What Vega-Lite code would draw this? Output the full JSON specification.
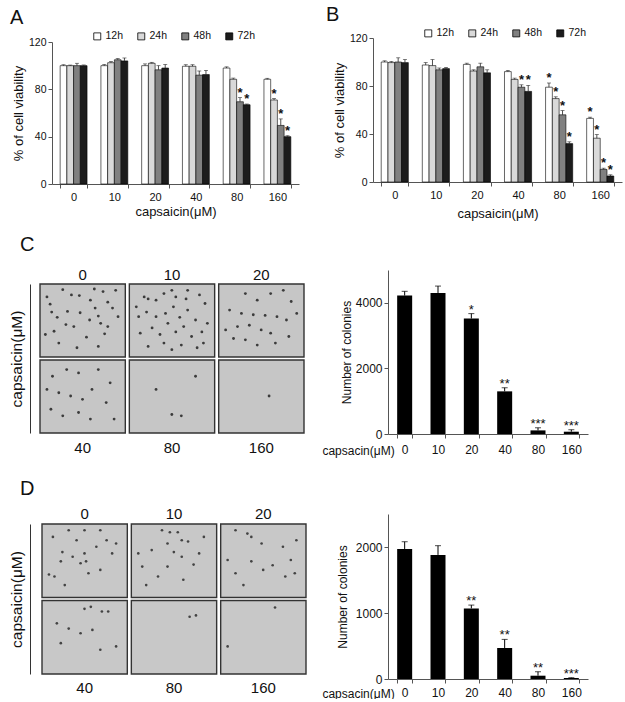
{
  "$schema": "https://vega.github.io/schema/vega-lite/v6.json",
  "background": "white",
  "padding": {"left": 9, "top": 5, "right": 0, "bottom": 0},
  "config": {
    "view": {"stroke": null},
    "font": "Liberation Sans",
    "axis": {"grid": false, "domainColor": "#555", "tickColor": "#555", "labelColor": "#111", "titleColor": "#111", "titleFontWeight": "normal", "labelFont": "Liberation Sans", "titleFont": "Liberation Sans"},
    "title": {"font": "Liberation Sans", "fontWeight": "normal", "color": "#111"},
    "legend": {"labelFont": "Liberation Sans", "labelColor": "#111"},
    "text": {"font": "Liberation Sans", "color": "#111"}
  },
  "datasets": {
    "viaA": [
      {"dose": "0", "time": "12h", "v": 100, "hi": 100.8, "star": ""},
      {"dose": "0", "time": "24h", "v": 100, "hi": 100.5, "star": ""},
      {"dose": "0", "time": "48h", "v": 100, "hi": 102, "star": ""},
      {"dose": "0", "time": "72h", "v": 100, "hi": 100.6, "star": ""},
      {"dose": "10", "time": "12h", "v": 100, "hi": 101, "star": ""},
      {"dose": "10", "time": "24h", "v": 102.5, "hi": 103.5, "star": ""},
      {"dose": "10", "time": "48h", "v": 105, "hi": 106, "star": ""},
      {"dose": "10", "time": "72h", "v": 104, "hi": 106.5, "star": ""},
      {"dose": "20", "time": "12h", "v": 100, "hi": 101.5, "star": ""},
      {"dose": "20", "time": "24h", "v": 102, "hi": 102.8, "star": ""},
      {"dose": "20", "time": "48h", "v": 96.5, "hi": 100, "star": ""},
      {"dose": "20", "time": "72h", "v": 98, "hi": 101, "star": ""},
      {"dose": "40", "time": "12h", "v": 99.5, "hi": 100.8, "star": ""},
      {"dose": "40", "time": "24h", "v": 99.5, "hi": 100.8, "star": ""},
      {"dose": "40", "time": "48h", "v": 92, "hi": 95.5, "star": ""},
      {"dose": "40", "time": "72h", "v": 92.5, "hi": 96, "star": ""},
      {"dose": "80", "time": "12h", "v": 98, "hi": 99, "star": ""},
      {"dose": "80", "time": "24h", "v": 88.5, "hi": 89.5, "star": ""},
      {"dose": "80", "time": "48h", "v": 69.5, "hi": 73, "star": "*"},
      {"dose": "80", "time": "72h", "v": 67, "hi": 67.6, "star": "*"},
      {"dose": "160", "time": "12h", "v": 88.5, "hi": 89.3, "star": ""},
      {"dose": "160", "time": "24h", "v": 71, "hi": 72.2, "star": "*"},
      {"dose": "160", "time": "48h", "v": 49.5, "hi": 55, "star": "*"},
      {"dose": "160", "time": "72h", "v": 40, "hi": 40.8, "star": "*"}
    ],
    "viaB": [
      {"dose": "0", "time": "12h", "v": 100, "hi": 101, "star": ""},
      {"dose": "0", "time": "24h", "v": 99.5, "hi": 100.5, "star": ""},
      {"dose": "0", "time": "48h", "v": 100, "hi": 103.5, "star": ""},
      {"dose": "0", "time": "72h", "v": 99.5, "hi": 102, "star": ""},
      {"dose": "10", "time": "12h", "v": 97.5, "hi": 99.5, "star": ""},
      {"dose": "10", "time": "24h", "v": 97, "hi": 102, "star": ""},
      {"dose": "10", "time": "48h", "v": 93.5, "hi": 95, "star": ""},
      {"dose": "10", "time": "72h", "v": 94.5, "hi": 95.5, "star": ""},
      {"dose": "20", "time": "12h", "v": 98, "hi": 99, "star": ""},
      {"dose": "20", "time": "24h", "v": 92.5, "hi": 93.5, "star": ""},
      {"dose": "20", "time": "48h", "v": 96, "hi": 99, "star": ""},
      {"dose": "20", "time": "72h", "v": 91, "hi": 93.5, "star": ""},
      {"dose": "40", "time": "12h", "v": 92, "hi": 93, "star": ""},
      {"dose": "40", "time": "24h", "v": 85.5, "hi": 86.5, "star": ""},
      {"dose": "40", "time": "48h", "v": 79, "hi": 81, "star": "*"},
      {"dose": "40", "time": "72h", "v": 75.5, "hi": 80.5, "star": "*"},
      {"dose": "80", "time": "12h", "v": 79, "hi": 82.5, "star": "*"},
      {"dose": "80", "time": "24h", "v": 69.5, "hi": 71, "star": "*"},
      {"dose": "80", "time": "48h", "v": 56, "hi": 59.5, "star": "*"},
      {"dose": "80", "time": "72h", "v": 32, "hi": 33.5, "star": "*"},
      {"dose": "160", "time": "12h", "v": 53, "hi": 54, "star": "*"},
      {"dose": "160", "time": "24h", "v": 36.5, "hi": 39.5, "star": "*"},
      {"dose": "160", "time": "48h", "v": 10.5, "hi": 11.5, "star": "*"},
      {"dose": "160", "time": "72h", "v": 5, "hi": 6, "star": "*"}
    ],
    "colC": [
      {"dose": "0", "v": 4220, "hi": 4350, "star": ""},
      {"dose": "10", "v": 4300, "hi": 4510, "star": ""},
      {"dose": "20", "v": 3520, "hi": 3670, "star": "*"},
      {"dose": "40", "v": 1300, "hi": 1410, "star": "**"},
      {"dose": "80", "v": 110, "hi": 190, "star": "***"},
      {"dose": "160", "v": 70, "hi": 130, "star": "***"}
    ],
    "colD": [
      {"dose": "0", "v": 1970, "hi": 2080, "star": ""},
      {"dose": "10", "v": 1880, "hi": 2020, "star": ""},
      {"dose": "20", "v": 1070, "hi": 1120, "star": "**"},
      {"dose": "40", "v": 470, "hi": 600, "star": "**"},
      {"dose": "80", "v": 50, "hi": 110, "star": "**"},
      {"dose": "160", "v": 15, "hi": 20, "star": "***"}
    ],
    "tiles": [
      {"panel": "C", "col": 0, "row": 0}, {"panel": "C", "col": 1, "row": 0}, {"panel": "C", "col": 2, "row": 0},
      {"panel": "C", "col": 0, "row": 1}, {"panel": "C", "col": 1, "row": 1}, {"panel": "C", "col": 2, "row": 1},
      {"panel": "D", "col": 0, "row": 0}, {"panel": "D", "col": 1, "row": 0}, {"panel": "D", "col": 2, "row": 0},
      {"panel": "D", "col": 0, "row": 1}, {"panel": "D", "col": 1, "row": 1}, {"panel": "D", "col": 2, "row": 1}
    ],
    "dots": [
      {"panel": "C", "col": 0, "row": 0, "u": 0.25, "v": 0.04}, {"panel": "C", "col": 0, "row": 0, "u": 0.36, "v": 0.12},
      {"panel": "C", "col": 0, "row": 0, "u": 0.46, "v": 0.13}, {"panel": "C", "col": 0, "row": 0, "u": 0.65, "v": 0.03},
      {"panel": "C", "col": 0, "row": 0, "u": 0.76, "v": 0.07}, {"panel": "C", "col": 0, "row": 0, "u": 0.92, "v": 0.05},
      {"panel": "C", "col": 0, "row": 0, "u": 0.09, "v": 0.26}, {"panel": "C", "col": 0, "row": 0, "u": 0.11, "v": 0.38},
      {"panel": "C", "col": 0, "row": 0, "u": 0.18, "v": 0.46}, {"panel": "C", "col": 0, "row": 0, "u": 0.29, "v": 0.57},
      {"panel": "C", "col": 0, "row": 0, "u": 0.39, "v": 0.6}, {"panel": "C", "col": 0, "row": 0, "u": 0.47, "v": 0.39},
      {"panel": "C", "col": 0, "row": 0, "u": 0.59, "v": 0.5}, {"panel": "C", "col": 0, "row": 0, "u": 0.7, "v": 0.44},
      {"panel": "C", "col": 0, "row": 0, "u": 0.73, "v": 0.55}, {"panel": "C", "col": 0, "row": 0, "u": 0.82, "v": 0.6},
      {"panel": "C", "col": 0, "row": 0, "u": 0.88, "v": 0.32}, {"panel": "C", "col": 0, "row": 0, "u": 0.82, "v": 0.23},
      {"panel": "C", "col": 0, "row": 0, "u": 0.14, "v": 0.67}, {"panel": "C", "col": 0, "row": 0, "u": 0.03, "v": 0.72},
      {"panel": "C", "col": 0, "row": 0, "u": 0.31, "v": 0.37}, {"panel": "C", "col": 0, "row": 0, "u": 0.66, "v": 0.32},
      {"panel": "C", "col": 0, "row": 0, "u": 0.78, "v": 0.71}, {"panel": "C", "col": 0, "row": 0, "u": 0.55, "v": 0.76},
      {"panel": "C", "col": 0, "row": 0, "u": 0.43, "v": 0.92}, {"panel": "C", "col": 0, "row": 0, "u": 0.7, "v": 0.9},
      {"panel": "C", "col": 0, "row": 0, "u": 0.05, "v": 0.15}, {"panel": "C", "col": 0, "row": 0, "u": 0.95, "v": 0.45},
      {"panel": "C", "col": 0, "row": 0, "u": 0.6, "v": 0.2}, {"panel": "C", "col": 0, "row": 0, "u": 0.2, "v": 0.85},
      {"panel": "C", "col": 1, "row": 0, "u": 0.15, "v": 0.15}, {"panel": "C", "col": 1, "row": 0, "u": 0.2, "v": 0.18},
      {"panel": "C", "col": 1, "row": 0, "u": 0.3, "v": 0.2}, {"panel": "C", "col": 1, "row": 0, "u": 0.4, "v": 0.1},
      {"panel": "C", "col": 1, "row": 0, "u": 0.5, "v": 0.05}, {"panel": "C", "col": 1, "row": 0, "u": 0.68, "v": 0.18},
      {"panel": "C", "col": 1, "row": 0, "u": 0.85, "v": 0.12}, {"panel": "C", "col": 1, "row": 0, "u": 0.92, "v": 0.25},
      {"panel": "C", "col": 1, "row": 0, "u": 0.08, "v": 0.45}, {"panel": "C", "col": 1, "row": 0, "u": 0.18, "v": 0.38},
      {"panel": "C", "col": 1, "row": 0, "u": 0.3, "v": 0.45}, {"panel": "C", "col": 1, "row": 0, "u": 0.42, "v": 0.4},
      {"panel": "C", "col": 1, "row": 0, "u": 0.52, "v": 0.3}, {"panel": "C", "col": 1, "row": 0, "u": 0.6, "v": 0.46},
      {"panel": "C", "col": 1, "row": 0, "u": 0.7, "v": 0.35}, {"panel": "C", "col": 1, "row": 0, "u": 0.8, "v": 0.5},
      {"panel": "C", "col": 1, "row": 0, "u": 0.95, "v": 0.55}, {"panel": "C", "col": 1, "row": 0, "u": 0.1, "v": 0.7},
      {"panel": "C", "col": 1, "row": 0, "u": 0.25, "v": 0.62}, {"panel": "C", "col": 1, "row": 0, "u": 0.35, "v": 0.72},
      {"panel": "C", "col": 1, "row": 0, "u": 0.45, "v": 0.55}, {"panel": "C", "col": 1, "row": 0, "u": 0.55, "v": 0.68},
      {"panel": "C", "col": 1, "row": 0, "u": 0.65, "v": 0.6}, {"panel": "C", "col": 1, "row": 0, "u": 0.75, "v": 0.75},
      {"panel": "C", "col": 1, "row": 0, "u": 0.88, "v": 0.68}, {"panel": "C", "col": 1, "row": 0, "u": 0.2, "v": 0.9},
      {"panel": "C", "col": 1, "row": 0, "u": 0.4, "v": 0.85}, {"panel": "C", "col": 1, "row": 0, "u": 0.5, "v": 0.95},
      {"panel": "C", "col": 1, "row": 0, "u": 0.62, "v": 0.88}, {"panel": "C", "col": 1, "row": 0, "u": 0.82, "v": 0.92},
      {"panel": "C", "col": 1, "row": 0, "u": 0.7, "v": 0.05}, {"panel": "C", "col": 1, "row": 0, "u": 0.05, "v": 0.3},
      {"panel": "C", "col": 1, "row": 0, "u": 0.55, "v": 0.15}, {"panel": "C", "col": 1, "row": 0, "u": 0.9, "v": 0.85},
      {"panel": "C", "col": 2, "row": 0, "u": 0.3, "v": 0.1}, {"panel": "C", "col": 2, "row": 0, "u": 0.45, "v": 0.2},
      {"panel": "C", "col": 2, "row": 0, "u": 0.62, "v": 0.1}, {"panel": "C", "col": 2, "row": 0, "u": 0.78, "v": 0.05},
      {"panel": "C", "col": 2, "row": 0, "u": 0.88, "v": 0.22}, {"panel": "C", "col": 2, "row": 0, "u": 0.1, "v": 0.35},
      {"panel": "C", "col": 2, "row": 0, "u": 0.25, "v": 0.4}, {"panel": "C", "col": 2, "row": 0, "u": 0.4, "v": 0.42},
      {"panel": "C", "col": 2, "row": 0, "u": 0.55, "v": 0.43}, {"panel": "C", "col": 2, "row": 0, "u": 0.7, "v": 0.45},
      {"panel": "C", "col": 2, "row": 0, "u": 0.82, "v": 0.5}, {"panel": "C", "col": 2, "row": 0, "u": 0.2, "v": 0.6},
      {"panel": "C", "col": 2, "row": 0, "u": 0.35, "v": 0.58}, {"panel": "C", "col": 2, "row": 0, "u": 0.5, "v": 0.65},
      {"panel": "C", "col": 2, "row": 0, "u": 0.62, "v": 0.7}, {"panel": "C", "col": 2, "row": 0, "u": 0.15, "v": 0.78},
      {"panel": "C", "col": 2, "row": 0, "u": 0.3, "v": 0.8}, {"panel": "C", "col": 2, "row": 0, "u": 0.45, "v": 0.88},
      {"panel": "C", "col": 2, "row": 0, "u": 0.68, "v": 0.85}, {"panel": "C", "col": 2, "row": 0, "u": 0.85, "v": 0.75},
      {"panel": "C", "col": 2, "row": 0, "u": 0.05, "v": 0.65}, {"panel": "C", "col": 2, "row": 0, "u": 0.95, "v": 0.4},
      {"panel": "C", "col": 0, "row": 1, "u": 0.12, "v": 0.2}, {"panel": "C", "col": 0, "row": 1, "u": 0.3, "v": 0.1},
      {"panel": "C", "col": 0, "row": 1, "u": 0.45, "v": 0.15}, {"panel": "C", "col": 0, "row": 1, "u": 0.7, "v": 0.1},
      {"panel": "C", "col": 0, "row": 1, "u": 0.2, "v": 0.45}, {"panel": "C", "col": 0, "row": 1, "u": 0.35, "v": 0.5},
      {"panel": "C", "col": 0, "row": 1, "u": 0.5, "v": 0.55}, {"panel": "C", "col": 0, "row": 1, "u": 0.62, "v": 0.4},
      {"panel": "C", "col": 0, "row": 1, "u": 0.8, "v": 0.6}, {"panel": "C", "col": 0, "row": 1, "u": 0.1, "v": 0.7},
      {"panel": "C", "col": 0, "row": 1, "u": 0.25, "v": 0.8}, {"panel": "C", "col": 0, "row": 1, "u": 0.45, "v": 0.75},
      {"panel": "C", "col": 0, "row": 1, "u": 0.6, "v": 0.85}, {"panel": "C", "col": 0, "row": 1, "u": 0.85, "v": 0.3},
      {"panel": "C", "col": 0, "row": 1, "u": 0.9, "v": 0.85}, {"panel": "C", "col": 0, "row": 1, "u": 0.05, "v": 0.4},
      {"panel": "C", "col": 1, "row": 1, "u": 0.3, "v": 0.4}, {"panel": "C", "col": 1, "row": 1, "u": 0.5, "v": 0.78},
      {"panel": "C", "col": 1, "row": 1, "u": 0.62, "v": 0.8}, {"panel": "C", "col": 1, "row": 1, "u": 0.8, "v": 0.2},
      {"panel": "C", "col": 2, "row": 1, "u": 0.6, "v": 0.5},
      {"panel": "D", "col": 0, "row": 0, "u": 0.1, "v": 0.15}, {"panel": "D", "col": 0, "row": 0, "u": 0.3, "v": 0.05},
      {"panel": "D", "col": 0, "row": 0, "u": 0.5, "v": 0.05}, {"panel": "D", "col": 0, "row": 0, "u": 0.7, "v": 0.05},
      {"panel": "D", "col": 0, "row": 0, "u": 0.78, "v": 0.2}, {"panel": "D", "col": 0, "row": 0, "u": 0.9, "v": 0.25},
      {"panel": "D", "col": 0, "row": 0, "u": 0.85, "v": 0.4}, {"panel": "D", "col": 0, "row": 0, "u": 0.22, "v": 0.38},
      {"panel": "D", "col": 0, "row": 0, "u": 0.35, "v": 0.45}, {"panel": "D", "col": 0, "row": 0, "u": 0.5, "v": 0.4},
      {"panel": "D", "col": 0, "row": 0, "u": 0.2, "v": 0.52}, {"panel": "D", "col": 0, "row": 0, "u": 0.45, "v": 0.55},
      {"panel": "D", "col": 0, "row": 0, "u": 0.52, "v": 0.52}, {"panel": "D", "col": 0, "row": 0, "u": 0.05, "v": 0.72},
      {"panel": "D", "col": 0, "row": 0, "u": 0.12, "v": 0.75}, {"panel": "D", "col": 0, "row": 0, "u": 0.55, "v": 0.7},
      {"panel": "D", "col": 0, "row": 0, "u": 0.7, "v": 0.65}, {"panel": "D", "col": 0, "row": 0, "u": 0.25, "v": 0.88},
      {"panel": "D", "col": 0, "row": 0, "u": 0.4, "v": 0.2}, {"panel": "D", "col": 0, "row": 0, "u": 0.65, "v": 0.3},
      {"panel": "D", "col": 1, "row": 0, "u": 0.35, "v": 0.05}, {"panel": "D", "col": 1, "row": 0, "u": 0.45, "v": 0.08},
      {"panel": "D", "col": 1, "row": 0, "u": 0.55, "v": 0.08}, {"panel": "D", "col": 1, "row": 0, "u": 0.6, "v": 0.2},
      {"panel": "D", "col": 1, "row": 0, "u": 0.68, "v": 0.22}, {"panel": "D", "col": 1, "row": 0, "u": 0.42, "v": 0.25},
      {"panel": "D", "col": 1, "row": 0, "u": 0.05, "v": 0.4}, {"panel": "D", "col": 1, "row": 0, "u": 0.22, "v": 0.35},
      {"panel": "D", "col": 1, "row": 0, "u": 0.5, "v": 0.38}, {"panel": "D", "col": 1, "row": 0, "u": 0.6, "v": 0.45},
      {"panel": "D", "col": 1, "row": 0, "u": 0.82, "v": 0.4}, {"panel": "D", "col": 1, "row": 0, "u": 0.1, "v": 0.6},
      {"panel": "D", "col": 1, "row": 0, "u": 0.42, "v": 0.6}, {"panel": "D", "col": 1, "row": 0, "u": 0.75, "v": 0.57},
      {"panel": "D", "col": 1, "row": 0, "u": 0.3, "v": 0.75}, {"panel": "D", "col": 1, "row": 0, "u": 0.62, "v": 0.8},
      {"panel": "D", "col": 1, "row": 0, "u": 0.15, "v": 0.88}, {"panel": "D", "col": 1, "row": 0, "u": 0.88, "v": 0.15},
      {"panel": "D", "col": 2, "row": 0, "u": 0.3, "v": 0.1}, {"panel": "D", "col": 2, "row": 0, "u": 0.35, "v": 0.15},
      {"panel": "D", "col": 2, "row": 0, "u": 0.15, "v": 0.05}, {"panel": "D", "col": 2, "row": 0, "u": 0.48, "v": 0.25},
      {"panel": "D", "col": 2, "row": 0, "u": 0.75, "v": 0.3}, {"panel": "D", "col": 2, "row": 0, "u": 0.92, "v": 0.2},
      {"panel": "D", "col": 2, "row": 0, "u": 0.85, "v": 0.5}, {"panel": "D", "col": 2, "row": 0, "u": 0.05, "v": 0.5},
      {"panel": "D", "col": 2, "row": 0, "u": 0.35, "v": 0.52}, {"panel": "D", "col": 2, "row": 0, "u": 0.15, "v": 0.7},
      {"panel": "D", "col": 2, "row": 0, "u": 0.5, "v": 0.65}, {"panel": "D", "col": 2, "row": 0, "u": 0.62, "v": 0.58},
      {"panel": "D", "col": 2, "row": 0, "u": 0.78, "v": 0.75}, {"panel": "D", "col": 2, "row": 0, "u": 0.25, "v": 0.88},
      {"panel": "D", "col": 2, "row": 0, "u": 0.9, "v": 0.7},
      {"panel": "D", "col": 0, "row": 1, "u": 0.5, "v": 0.08}, {"panel": "D", "col": 0, "row": 1, "u": 0.58, "v": 0.05},
      {"panel": "D", "col": 0, "row": 1, "u": 0.72, "v": 0.12}, {"panel": "D", "col": 0, "row": 1, "u": 0.8, "v": 0.12},
      {"panel": "D", "col": 0, "row": 1, "u": 0.15, "v": 0.3}, {"panel": "D", "col": 0, "row": 1, "u": 0.3, "v": 0.38},
      {"panel": "D", "col": 0, "row": 1, "u": 0.45, "v": 0.45}, {"panel": "D", "col": 0, "row": 1, "u": 0.6, "v": 0.4},
      {"panel": "D", "col": 0, "row": 1, "u": 0.2, "v": 0.6}, {"panel": "D", "col": 0, "row": 1, "u": 0.7, "v": 0.7},
      {"panel": "D", "col": 0, "row": 1, "u": 0.9, "v": 0.65},
      {"panel": "D", "col": 1, "row": 1, "u": 0.7, "v": 0.2}, {"panel": "D", "col": 1, "row": 1, "u": 0.78, "v": 0.18},
      {"panel": "D", "col": 2, "row": 1, "u": 0.65, "v": 0.06}, {"panel": "D", "col": 2, "row": 1, "u": 0.05, "v": 0.65}
    ]
  },
  "columns": 2,
  "align": "none",
  "bounds": "flush",
  "spacing": {"row": 80, "column": 74},
  "resolve": {
    "scale": {"x": "independent", "y": "independent", "color": "independent", "xOffset": "independent", "yOffset": "independent"},
    "legend": {"color": "independent"}
  },
  "concat": [
    {
      "title": {"text": "A", "anchor": "start", "frame": "group", "dx": -42, "dy": 21, "fontSize": 20, "baseline": "alphabetic", "offset": 8},
      "width": 247,
      "height": 152,
      "data": {"name": "viaA"},
      "encoding": {
        "x": {"field": "dose", "type": "ordinal", "scale": {"domain": ["0", "10", "20", "40", "80", "160"], "paddingInner": 0.34},
          "axis": {"title": "capsaicin(μM)", "labelAngle": 0, "offset": -6, "tickBand": "extent", "tickSize": 4, "labelPadding": 3, "labelFontSize": 11, "titleFontSize": 13, "titlePadding": 3}},
        "xOffset": {"field": "time", "type": "nominal", "scale": {"domain": ["12h", "24h", "48h", "72h"], "paddingInner": 0}}
      },
      "layer": [
        {
          "mark": {"type": "bar", "stroke": "black", "strokeWidth": 0.6},
          "encoding": {
            "y": {"field": "v", "type": "quantitative", "scale": {"domain": [0, 120], "range": [146, 4], "nice": false},
              "axis": {"title": "% of cell viability", "values": [0, 20, 40, 60, 80, 100, 120], "tickSize": 4, "labelFontSize": 10.5, "titleFontSize": 13, "titlePadding": 3}},
            "color": {"field": "time", "type": "nominal",
              "scale": {"domain": ["12h", "24h", "48h", "72h"], "range": ["#ffffff", "#d9d9d9", "#808080", "#1c1c1c"]},
              "legend": {"title": null, "orient": "none", "legendX": 40, "legendY": -7, "direction": "horizontal", "symbolType": "square", "symbolSize": 49, "symbolStrokeColor": "black", "symbolStrokeWidth": 0.8, "labelFontSize": 10.5, "columnPadding": 12, "labelOffset": 3}}
          }
        },
        {
          "transform": [{"filter": "datum.hi > datum.v"}],
          "mark": {"type": "rule", "color": "#222", "strokeWidth": 0.8},
          "encoding": {"y": {"field": "v", "type": "quantitative"}, "y2": {"field": "hi"}}
        },
        {
          "transform": [{"filter": "datum.hi > datum.v"}],
          "mark": {"type": "tick", "color": "#222", "thickness": 0.8, "size": 4},
          "encoding": {"y": {"field": "hi", "type": "quantitative"}}
        },
        {
          "transform": [{"filter": "datum.star != ''"}],
          "mark": {"type": "text", "baseline": "alphabetic", "dy": -1, "fontSize": 13, "fontWeight": "bold"},
          "encoding": {"y": {"field": "hi", "type": "quantitative"}, "text": {"field": "star"}}
        }
      ]
    },
    {
      "title": {"text": "B", "anchor": "start", "frame": "group", "dx": -62, "dy": 21, "fontSize": 20, "baseline": "alphabetic", "offset": 8},
      "width": 234,
      "height": 152,
      "data": {"name": "viaB"},
      "encoding": {
        "x": {"field": "dose", "type": "ordinal", "scale": {"domain": ["0", "10", "20", "40", "80", "160"], "range": [-15, 234], "paddingInner": 0.34},
          "axis": {"title": "capsaicin(μM)", "labelAngle": 0, "offset": -8, "tickBand": "extent", "tickSize": 4, "labelPadding": 3, "labelFontSize": 11, "titleFontSize": 13, "titlePadding": 7}},
        "xOffset": {"field": "time", "type": "nominal", "scale": {"domain": ["12h", "24h", "48h", "72h"], "paddingInner": 0}}
      },
      "layer": [
        {
          "mark": {"type": "bar", "stroke": "black", "strokeWidth": 0.6},
          "encoding": {
            "y": {"field": "v", "type": "quantitative", "scale": {"domain": [0, 120], "range": [144, 0], "nice": false},
              "axis": {"title": "% of cell viability", "values": [0, 20, 40, 60, 80, 100, 120], "offset": 15, "tickSize": 4, "labelFontSize": 10.5, "titleFontSize": 13, "titlePadding": 3}},
            "color": {"field": "time", "type": "nominal",
              "scale": {"domain": ["12h", "24h", "48h", "72h"], "range": ["#ffffff", "#d9d9d9", "#808080", "#1c1c1c"]},
              "legend": {"title": null, "orient": "none", "legendX": 35, "legendY": -10, "direction": "horizontal", "symbolType": "square", "symbolSize": 49, "symbolStrokeColor": "black", "symbolStrokeWidth": 0.8, "labelFontSize": 10.5, "columnPadding": 12, "labelOffset": 3}}
          }
        },
        {
          "transform": [{"filter": "datum.hi > datum.v"}],
          "mark": {"type": "rule", "color": "#222", "strokeWidth": 0.8},
          "encoding": {"y": {"field": "v", "type": "quantitative"}, "y2": {"field": "hi"}}
        },
        {
          "transform": [{"filter": "datum.hi > datum.v"}],
          "mark": {"type": "tick", "color": "#222", "thickness": 0.8, "size": 4},
          "encoding": {"y": {"field": "hi", "type": "quantitative"}}
        },
        {
          "transform": [{"filter": "datum.star != ''"}],
          "mark": {"type": "text", "baseline": "alphabetic", "dy": -1, "fontSize": 13, "fontWeight": "bold"},
          "encoding": {"y": {"field": "hi", "type": "quantitative"}, "text": {"field": "star"}}
        }
      ]
    },
    {
      "title": {"text": "C", "anchor": "start", "frame": "group", "dx": -32, "dy": 16, "fontSize": 20, "baseline": "alphabetic", "offset": 12},
      "width": 262,
      "height": 164,
      "layer": [
        {
          "data": {"name": "tiles"},
          "transform": [{"filter": "datum.panel == 'C'"}],
          "mark": {"type": "rect", "fill": "#c6c6c6", "stroke": "#333", "strokeWidth": 1.4},
          "encoding": {
            "x": {"field": "col", "type": "ordinal", "scale": {"type": "band", "range": [-12, 252], "paddingInner": 0.045, "paddingOuter": 0},
              "axis": {"orient": "top", "offset": -14, "title": null, "domain": false, "ticks": false, "labelPadding": 2, "labelFontSize": 15, "labelAngle": 0, "labelExpr": "['0','10','20'][datum.value]"}},
            "y": {"field": "row", "type": "ordinal", "scale": {"type": "band", "range": [14, 163], "paddingInner": 0.04, "paddingOuter": 0},
              "axis": {"title": "capsaicin(μM)", "titleFontSize": 15.5, "labels": false, "ticks": false, "domain": true, "domainColor": "#333", "offset": 22, "titlePadding": 6}}
          }
        },
        {
          "data": {"name": "dots"},
          "transform": [{"filter": "datum.panel == 'C'"}],
          "mark": {"type": "circle", "size": 8, "color": "#2b2b2b", "opacity": 0.9},
          "encoding": {
            "x": {"field": "col", "type": "ordinal", "scale": {"type": "band"},
              "axis": {"orient": "bottom", "offset": -1, "title": null, "domain": false, "ticks": false, "labelPadding": 7, "labelFontSize": 15, "labelAngle": 0, "labelExpr": "['40','80','160'][datum.value]"}},
            "xOffset": {"field": "u", "type": "quantitative", "scale": {"domain": [0, 1], "range": [3, 82]}},
            "y": {"field": "row", "type": "ordinal", "scale": {"type": "band"}},
            "yOffset": {"field": "v", "type": "quantitative", "scale": {"domain": [0, 1], "range": [3, 69]}}
          }
        }
      ],
      "resolve": {"scale": {"xOffset": "independent", "yOffset": "independent"}, "axis": {"x": "independent"}}
    },
    {
      "width": 200,
      "height": 164,
      "data": {"name": "colC"},
      "encoding": {
        "x": {"field": "dose", "type": "ordinal", "scale": {"domain": ["0", "10", "20", "40", "80", "160"], "paddingInner": 0.55},
          "axis": {"title": "capsacin(μM)", "labelAngle": 0, "tickBand": "extent", "tickSize": 4, "labelPadding": 6, "labelFontSize": 12, "titleFontSize": 12, "titleAngle": 0, "titleX": -30, "titleY": 16, "titleAlign": "center", "titleBaseline": "middle"}}
      },
      "layer": [
        {
          "mark": {"type": "bar", "color": "black"},
          "encoding": {"y": {"field": "v", "type": "quantitative", "scale": {"domain": [0, 5000], "nice": false},
            "axis": {"title": "Number of colonies", "values": [0, 1000, 2000, 3000, 4000, 5000], "format": "d", "tickSize": 4, "labelFontSize": 12, "titleFontSize": 12, "titlePadding": 2}}}
        },
        {
          "mark": {"type": "rule", "color": "black", "strokeWidth": 1},
          "encoding": {"y": {"field": "v", "type": "quantitative"}, "y2": {"field": "hi"}}
        },
        {
          "mark": {"type": "tick", "color": "black", "thickness": 1, "size": 6},
          "encoding": {"y": {"field": "hi", "type": "quantitative"}}
        },
        {
          "transform": [{"filter": "datum.star != ''"}],
          "mark": {"type": "text", "baseline": "alphabetic", "dy": 0, "fontSize": 13},
          "encoding": {"y": {"field": "hi", "type": "quantitative"}, "text": {"field": "star"}}
        }
      ]
    },
    {
      "title": {"text": "D", "anchor": "start", "frame": "group", "dx": -32, "dy": 21, "fontSize": 20, "baseline": "alphabetic", "offset": 12},
      "width": 262,
      "height": 165,
      "layer": [
        {
          "data": {"name": "tiles"},
          "transform": [{"filter": "datum.panel == 'D'"}],
          "mark": {"type": "rect", "fill": "#c8c8c8", "stroke": "#333", "strokeWidth": 1.4},
          "encoding": {
            "x": {"field": "col", "type": "ordinal", "scale": {"type": "band", "range": [-10, 254], "paddingInner": 0.045, "paddingOuter": 0},
              "axis": {"orient": "top", "offset": -10, "title": null, "domain": false, "ticks": false, "labelPadding": 3, "labelFontSize": 15, "labelAngle": 0, "labelExpr": "['0','10','20'][datum.value]"}},
            "y": {"field": "row", "type": "ordinal", "scale": {"type": "band", "range": [10, 160], "paddingInner": 0.04, "paddingOuter": 0},
              "axis": {"title": "capsaicin(μM)", "titleFontSize": 15.5, "labels": false, "ticks": false, "domain": true, "domainColor": "#333", "offset": 22, "titlePadding": 6}}
          }
        },
        {
          "data": {"name": "dots"},
          "transform": [{"filter": "datum.panel == 'D'"}],
          "mark": {"type": "circle", "size": 7, "color": "#2b2b2b", "opacity": 0.85},
          "encoding": {
            "x": {"field": "col", "type": "ordinal", "scale": {"type": "band"},
              "axis": {"orient": "bottom", "offset": -5, "title": null, "domain": false, "ticks": false, "labelPadding": 6, "labelFontSize": 15, "labelAngle": 0, "labelExpr": "['40','80','160'][datum.value]"}},
            "xOffset": {"field": "u", "type": "quantitative", "scale": {"domain": [0, 1], "range": [3, 82]}},
            "y": {"field": "row", "type": "ordinal", "scale": {"type": "band"}},
            "yOffset": {"field": "v", "type": "quantitative", "scale": {"domain": [0, 1], "range": [3, 69]}}
          }
        }
      ],
      "resolve": {"scale": {"xOffset": "independent", "yOffset": "independent"}, "axis": {"x": "independent"}}
    },
    {
      "width": 200,
      "height": 165,
      "data": {"name": "colD"},
      "encoding": {
        "x": {"field": "dose", "type": "ordinal", "scale": {"domain": ["0", "10", "20", "40", "80", "160"], "paddingInner": 0.55},
          "axis": {"title": "capsacin(μM)", "labelAngle": 0, "tickBand": "extent", "tickSize": 4, "labelPadding": 4, "labelFontSize": 12, "titleFontSize": 12, "titleAngle": 0, "titleX": -30, "titleY": 14, "titleAlign": "center", "titleBaseline": "middle"}}
      },
      "layer": [
        {
          "mark": {"type": "bar", "color": "black"},
          "encoding": {"y": {"field": "v", "type": "quantitative", "scale": {"domain": [0, 2500], "nice": false},
            "axis": {"title": "Number of colonies", "values": [0, 500, 1000, 1500, 2000, 2500], "format": "d", "tickSize": 4, "labelFontSize": 12, "titleFontSize": 12, "titlePadding": 6}}}
        },
        {
          "mark": {"type": "rule", "color": "black", "strokeWidth": 1},
          "encoding": {"y": {"field": "v", "type": "quantitative"}, "y2": {"field": "hi"}}
        },
        {
          "mark": {"type": "tick", "color": "black", "thickness": 1, "size": 6},
          "encoding": {"y": {"field": "hi", "type": "quantitative"}}
        },
        {
          "transform": [{"filter": "datum.star != ''"}],
          "mark": {"type": "text", "baseline": "alphabetic", "dy": 0, "fontSize": 13},
          "encoding": {"y": {"field": "hi", "type": "quantitative"}, "text": {"field": "star"}}
        }
      ]
    }
  ]
}
